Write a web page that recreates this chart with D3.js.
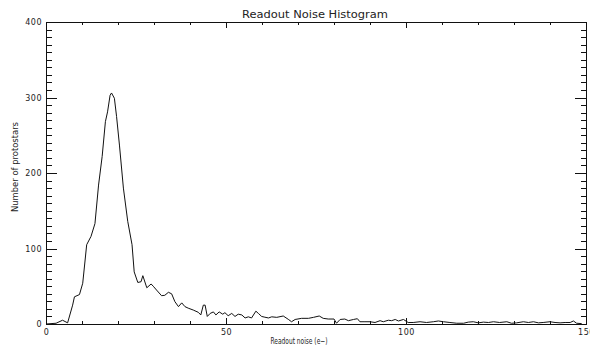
<!DOCTYPE html>
<html>
<head>
<meta charset="utf-8">
<script src="https://cdn.jsdelivr.net/npm/d3@7"></script>
<style>
  body { margin: 0; background: #fff; }
  text { font-family: "DejaVu Sans", sans-serif; fill: #222; }
  .axis path, .axis line { stroke: #111; shape-rendering: crispEdges; }
</style>
</head>
<body>
<div id="chart"></div>
<script>
// readout noise (e-) and number of protostars
var noise = [0, 2.8, 4.6, 6, 7.4, 7.9, 9.3, 10.2, 11.3, 12.5, 13.6, 14.6, 15.6, 16.5, 17.1, 17.8, 18.2,
  19.0, 19.6, 20.4, 21.5, 22.7, 23.9, 24.5, 25.5, 26.4, 26.9, 28, 29.2, 29.8, 30.7, 32.1, 33, 34,
  34.9, 35.8, 36.8, 37.7, 38.6, 39.5, 40.9, 42.3, 43, 43.7, 44.2, 44.8, 45.6, 46.5, 47.2, 48.1,
  49.1, 49.7, 50.6, 51.6, 52.5, 53.4, 54.4, 55.3, 56.2, 57.1, 58.3, 59, 59.9, 60.8, 61.8, 62.7,
  64.1, 65.9, 67.3, 68.2, 69.2, 71, 72.9, 74.3, 75.9, 77, 78.4, 80, 80.7, 81.7, 83, 84, 85.4,
  86.5, 87.2, 88.6, 90, 91.4, 92.8, 93.7, 95.1, 96, 97, 97.9, 99.3, 100.6, 102, 103.9, 105.7,
  107.6, 109, 110.4, 112.2, 114.1, 116, 117.3, 118.7, 120.1, 121.5, 122.9, 124.3, 126, 128,
  129.3, 130.7, 132.6, 134, 135.4, 136.8, 138.1, 140, 141.4, 142.8, 144.2, 145.6, 146.5, 147.4, 148.8];
var counts = [0, 1, 5, 1.5, 25, 36, 39, 54, 105, 116, 133, 184, 222, 268, 281, 303, 306,
  299, 275, 237, 180, 136, 105, 69, 55, 56, 64, 48, 53, 50, 45, 37.5, 38, 42,
  40, 29.6, 23, 28, 23, 21, 18.5, 15.5, 12, 25, 25, 10, 14, 16, 12, 16,
  13, 15, 11, 14, 10, 13, 12, 8, 9.5, 8, 17, 14, 10, 9, 8, 9.5,
  8.8, 10.6, 6.2, 3, 6, 7.5, 7.5, 8.8, 10.6, 7.5, 6.6, 6.6, 1, 6, 6.6, 4.4, 6,
  7, 3, 3, 3, 2, 4.4, 3, 5, 4.4, 6, 4, 6, 2, 2, 3, 2,
  3, 4, 3, 2, 1, 1, 2.5, 3, 1.5, 2.5, 2, 3, 2, 3,
  1, 1.5, 3, 2, 3, 1.5, 2, 3, 2, 1.5, 2, 2, 4, 1, 0.5];

var xTicks = [0, 50, 100, 150];
var yTicks = [0, 100, 200, 300, 400];
var xMinor = d3.range(0, 151, 10);
var yMinor = d3.range(0, 401, 10);

var margin = {top: 22, right: 4, bottom: 23, left: 46},
    width = 590 - margin.left - margin.right,
    height = 347 - margin.top - margin.bottom;

var svg = d3.select("#chart")
    .append("svg")
    .attr("width", 590)
    .attr("height", 347);

var g = svg.append("g")
    .attr("transform", "translate(" + margin.left + "," + margin.top + ")");

var x = d3.scaleLinear().domain([0, 150]).range([0, width]);
var y = d3.scaleLinear().domain([0, 400]).range([height, 0]);

// minor ticks (no labels) on all four sides
g.append("g").attr("class", "axis")
  .call(d3.axisLeft(y).tickValues(yMinor).tickSize(-5.5).tickSizeOuter(0).tickFormat(""));
g.append("g").attr("class", "axis")
  .attr("transform", "translate(" + width + ",0)")
  .call(d3.axisRight(y).tickValues(yMinor).tickSize(-5.5).tickSizeOuter(0).tickFormat(""));
g.append("g").attr("class", "axis")
  .attr("transform", "translate(0," + height + ")")
  .call(d3.axisBottom(x).tickValues(xMinor).tickSize(-3).tickSizeOuter(0).tickFormat(""));
g.append("g").attr("class", "axis")
  .call(d3.axisTop(x).tickValues(xMinor).tickSize(-3).tickSizeOuter(0).tickFormat(""));

// major ticks
g.append("g").attr("class", "axis")
  .call(d3.axisLeft(y).tickValues(yTicks).tickSize(-11).tickSizeOuter(0).tickPadding(4))
  .selectAll("text").attr("font-size", 8).attr("letter-spacing", 0.5).attr("font-family", null);
g.append("g").attr("class", "axis")
  .attr("transform", "translate(" + width + ",0)")
  .call(d3.axisRight(y).tickValues(yTicks).tickSize(-11).tickSizeOuter(0).tickFormat(""));
g.append("g").attr("class", "axis")
  .attr("transform", "translate(0," + height + ")")
  .call(d3.axisBottom(x).tickValues(xTicks).tickSize(-6).tickSizeOuter(0).tickPadding(5))
  .selectAll("text").attr("font-size", 8).attr("letter-spacing", 0.5).attr("font-family", null);
g.append("g").attr("class", "axis")
  .call(d3.axisTop(x).tickValues(xTicks).tickSize(-6).tickSizeOuter(0).tickFormat(""));

var line = d3.line()
  .x(function(d, i){ return x(noise[i]); })
  .y(function(d){ return y(d); });

g.append("path")
  .datum(counts)
  .attr("fill", "none")
  .attr("stroke", "#111")
  .attr("stroke-width", 1)
  .attr("d", line);

// titles
svg.append("text")
  .attr("x", 315).attr("y", 18)
  .attr("text-anchor", "middle")
  .attr("font-size", 10)
  .attr("textLength", 146).attr("lengthAdjust", "spacingAndGlyphs")
  .text("Readout Noise Histogram");

svg.append("text")
  .attr("x", 299).attr("y", 344)
  .attr("text-anchor", "middle")
  .attr("font-size", 9)
  .attr("textLength", 57).attr("lengthAdjust", "spacingAndGlyphs")
  .text("Readout noise (e\u2212)");

svg.append("text")
  .attr("transform", "translate(18,167) rotate(-90)")
  .attr("text-anchor", "middle")
  .attr("font-size", 9)
  .attr("textLength", 90).attr("lengthAdjust", "spacingAndGlyphs")
  .text("Number of protostars");
</script>
</body>
</html>
